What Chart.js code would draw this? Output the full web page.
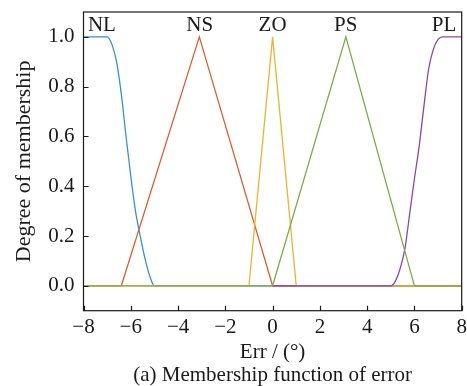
<!DOCTYPE html>
<html>
<head>
<meta charset="utf-8">
<script src="https://cdn.jsdelivr.net/npm/chart.js@4.4.1/dist/chart.umd.min.js"></script>
<style>
  html, body { margin: 0; padding: 0; background: #fff; }
  #wrap { width: 467px; height: 386px; }
</style>
</head>
<body>
<div id="wrap"><canvas id="mf" width="467" height="386"></canvas></div>
<script>
    // membership functions of the error input
    const nlX = [-8, -7.0, -6.8, -6.6, -6.4, -6.2, -6.0, -5.8, -5.6, -5.4, -5.2, -5.0, 8];
    const nlY = [1, 1, 0.97, 0.9, 0.77, 0.6, 0.44, 0.3, 0.2, 0.11, 0.04, 0, 0];
    const nsX = [-8, -6.4, -3.1, 0, 8];
    const nsY = [0, 0, 1, 0, 0];
    const zoX = [-8, -1, 0, 1, 8];
    const zoY = [0, 0, 1, 0, 0];
    const psX = [-8, 0, 3.1, 6, 8];
    const psY = [0, 0, 1, 0, 0];
    const plX = [0, 5.0, 5.2, 5.4, 5.6, 5.8, 6.0, 6.2, 6.4, 6.6, 6.8, 7.0, 7.2, 8];
    const plY = [0, 0, 0.02, 0.07, 0.15, 0.29, 0.43, 0.56, 0.72, 0.87, 0.95, 0.99, 1, 1];

    const setNames = ['NL', 'NS', 'ZO', 'PS', 'PL'];
    const nameX = [-7.22, -3.08, 0, 3.09, 7.25];
    const nameY = 1.047;

    const xTicks = [-8, -6, -4, -2, 0, 2, 4, 6, 8];
    const yTicks = [0, 0.2, 0.4, 0.6, 0.8, 1.0];

    const serif = '"Liberation Serif", "Times New Roman", serif';
    const ink = '#1a1a1a';

    function pts(xs, ys) {
        return xs.map((x, i) => ({ x: x, y: ys[i] }));
    }

    function line(label, xs, ys, color, order, smooth) {
        return {
            label: label,
            data: pts(xs, ys),
            borderColor: color,
            borderWidth: 1.3,
            pointRadius: 0,
            fill: false,
            order: order,
            tension: 0,
            cubicInterpolationMode: smooth ? 'monotone' : 'default'
        };
    }

    function minus(v) {
        return v < 0 ? '\u2212' + Math.abs(v) : String(v);
    }

    // box frame, inward ticks and the set names above the peaks
    const decor = {
        id: 'decor',
        afterDraw(chart) {
            const { ctx, chartArea: a, scales: { x, y } } = chart;
            ctx.save();
            ctx.strokeStyle = ink;
            ctx.lineWidth = 1.2;
            ctx.strokeRect(a.left, a.top, a.right - a.left, a.bottom - a.top);

            ctx.beginPath();
            xTicks.forEach(v => {
                const px = Math.round(x.getPixelForValue(v)) + 0.5;
                ctx.moveTo(px, a.bottom);
                ctx.lineTo(px, a.bottom - 5);
            });
            yTicks.forEach(v => {
                const py = Math.round(y.getPixelForValue(v)) + 0.5;
                ctx.moveTo(a.left, py);
                ctx.lineTo(a.left + 5, py);
            });
            ctx.stroke();

            ctx.fillStyle = ink;
            ctx.font = '21px ' + serif;
            ctx.textAlign = 'center';
            ctx.textBaseline = 'middle';
            setNames.forEach((n, i) => {
                ctx.fillText(n, x.getPixelForValue(nameX[i]), y.getPixelForValue(nameY));
            });
            ctx.restore();
        }
    };

    new Chart(document.getElementById('mf'), {
        type: 'line',
        data: {
            datasets: [
                line('NL', nlX, nlY, '#3592cf', 5, true),
                line('NS', nsX, nsY, '#d9602f', 4, false),
                line('ZO', zoX, zoY, '#efb232', 3, false),
                line('PL', plX, plY, '#8b46a3', 2, true),
                line('PS', psX, psY, '#7cae44', 1, false)
            ]
        },
        options: {
            responsive: false,
            animation: false,
            layout: { padding: { left: 0, right: 5.3, top: 12, bottom: 0 } },
            plugins: {
                legend: { display: false },
                tooltip: { enabled: false },
                title: {
                    display: true,
                    position: 'bottom',
                    fullSize: false,
                    text: '(a) Membership function of error',
                    color: ink,
                    font: { family: serif, size: 21, weight: 'normal', lineHeight: 1.0 },
                    padding: { top: 0, bottom: 0 }
                }
            },
            scales: {
                x: {
                    type: 'linear',
                    min: -8,
                    max: 8,
                    afterBuildTicks: s => { s.ticks = xTicks.map(v => ({ value: v })); },
                    afterFit: s => {
                        s.height = 54.3;
                        s.paddingLeft = 0;
                        s.paddingRight = 0;
                    },
                    ticks: {
                        color: ink,
                        padding: 4,
                        maxRotation: 0,
                        font: { family: serif, size: 21 },
                        callback: v => minus(v)
                    },
                    grid: { display: false, drawTicks: false },
                    border: { display: false },
                    title: {
                        display: true,
                        text: 'Err / (\u00b0)',
                        color: ink,
                        font: { family: serif, size: 21 },
                        padding: 0
                    }
                },
                y: {
                    min: -0.1,
                    max: 1.1,
                    afterBuildTicks: s => { s.ticks = yTicks.map(v => ({ value: v })); },
                    afterFit: s => {
                        s.width = 83.5;
                        s.paddingTop = 0;
                        s.paddingBottom = 0;
                    },
                    ticks: {
                        color: ink,
                        padding: 9,
                        font: { family: serif, size: 21 },
                        callback: v => v.toFixed(1)
                    },
                    grid: { display: false, drawTicks: false },
                    border: { display: false },
                    title: {
                        display: true,
                        text: 'Degree of membership',
                        color: ink,
                        font: { family: serif, size: 22 },
                        padding: { top: 11, bottom: 0 }
                    }
                }
            }
        },
        plugins: [decor]
    });
</script>
</body>
</html>
